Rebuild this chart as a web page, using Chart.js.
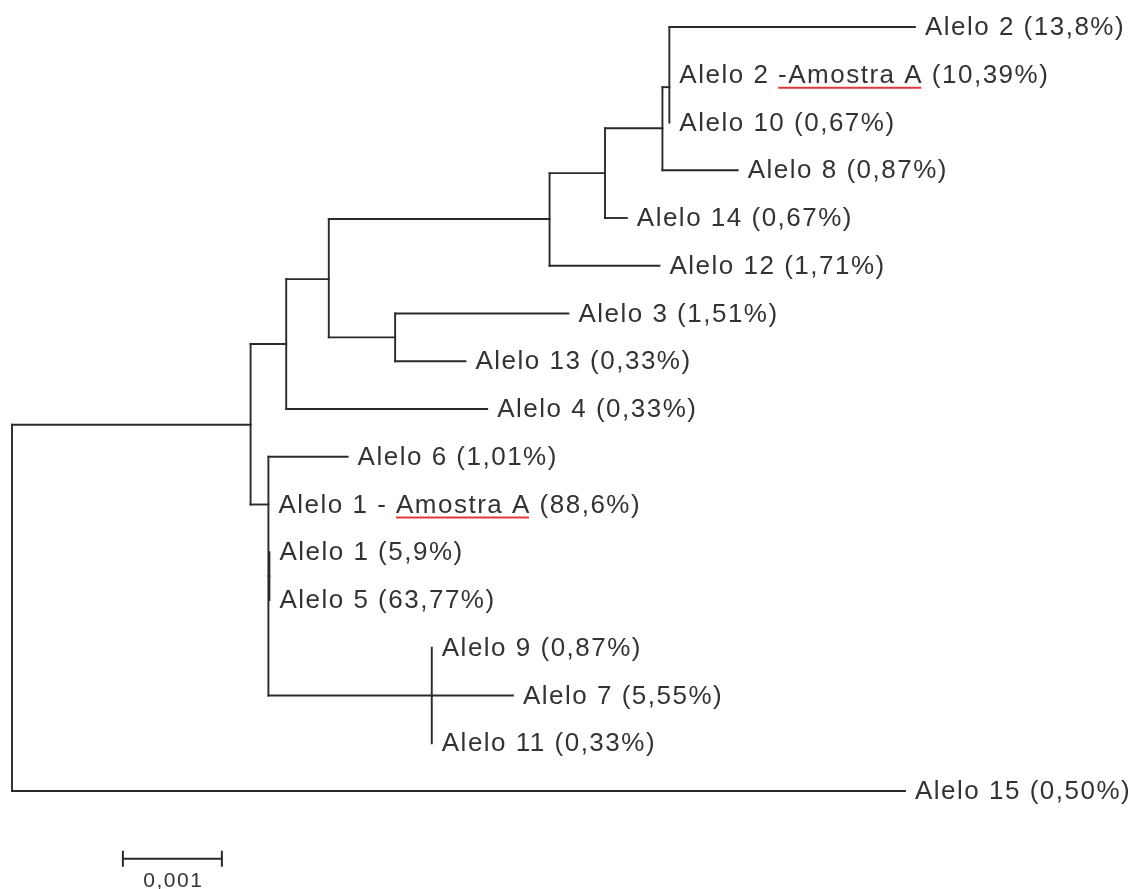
<!DOCTYPE html>
<html>
<head>
<meta charset="utf-8">
<script src="https://cdn.jsdelivr.net/npm/chart.js@4/dist/chart.umd.min.js"></script>
<style>
  body { margin: 0; background: #fff; }
  #tree { display: block; }
</style>
</head>
<body>
<canvas id="tree" width="1143" height="889"></canvas>
<script>
// Leaves, top to bottom (row = index)
const leafNames = ['Alelo 2', 'Alelo 2 -Amostra A', 'Alelo 10', 'Alelo 8', 'Alelo 14', 'Alelo 12',
  'Alelo 3', 'Alelo 13', 'Alelo 4', 'Alelo 6', 'Alelo 1 - Amostra A', 'Alelo 1', 'Alelo 5',
  'Alelo 9', 'Alelo 7', 'Alelo 11', 'Alelo 15'];
const leafPercents = ['13,8%', '10,39%', '0,67%', '0,87%', '0,67%', '1,71%', '1,51%', '0,33%', '0,33%',
  '1,01%', '88,6%', '5,9%', '63,77%', '0,87%', '5,55%', '0,33%', '0,50%'];
const leafUnderline = ['', '-Amostra A', '', '', '', '', '', '', '', '', 'Amostra A', '', '', '', '', '', ''];
const leafParents = ['n8', 'n8', 'n8', 'n7', 'n6', 'n5', 'n4', 'n4', 'n2', 'n9', 'n9', 'n10', 'n10',
  'n11', 'n11', 'n11', 'root'];
// distance from root (substitutions per site)
const leafDepths = [0.00912, 0.00664, 0.00664, 0.00733, 0.00621, 0.00654, 0.00562, 0.00458, 0.00480,
  0.00339, 0.00259, 0.00260, 0.00260, 0.00424, 0.00506, 0.00424, 0.00902];

// Internal nodes
const nodeNames = ['root', 'n1', 'n2', 'n3', 'n4', 'n5', 'n6', 'n7', 'n8', 'n9', 'n10', 'n11'];
const nodeParents = [null, 'root', 'n1', 'n2', 'n3', 'n3', 'n5', 'n6', 'n7', 'n1', 'n9', 'n9'];
const nodeDepths = [0, 0.00241, 0.00277, 0.00320, 0.00387, 0.00543, 0.00599, 0.00657, 0.00664,
  0.00259, 0.00260, 0.00424];
const nodeRows = [12, 8.33, 6.64, 5.28, 6.5, 4.02, 3.06, 2.12, 1.26, 10, 11.5, 14];

const scaleBarLength = 0.001;
const scaleBarLabel = '0,001';

const lineColor = '#2a2a2a';
const textColor = '#333333';

// build lookup of every node position
const pos = {};
nodeNames.forEach((n, i) => { pos[n] = { x: nodeDepths[i], y: nodeRows[i], parent: nodeParents[i] }; });
const children = {};
nodeNames.forEach(n => { children[n] = []; });
nodeNames.forEach((n, i) => { if (nodeParents[i]) children[nodeParents[i]].push(pos[n]); });
leafNames.forEach((n, i) => { children[leafParents[i]].push({ x: leafDepths[i], y: i }); });

function seg(a, b) {
  return {
    data: [a, b],
    showLine: true,
    borderColor: lineColor,
    borderWidth: 1.9,
    borderCapStyle: 'square',
    pointRadius: 0,
    fill: false,
    clip: false
  };
}

const datasets = [];
// horizontal branches
nodeNames.forEach((n, i) => {
  const p = nodeParents[i];
  if (p && nodeDepths[i] > pos[p].x) datasets.push(seg({ x: pos[p].x, y: nodeRows[i] }, { x: nodeDepths[i], y: nodeRows[i] }));
});
leafNames.forEach((n, i) => {
  const p = pos[leafParents[i]];
  if (leafDepths[i] > p.x) datasets.push(seg({ x: p.x, y: i }, { x: leafDepths[i], y: i }));
});
// vertical connectors
nodeNames.forEach((n, i) => {
  const rows = children[n].map(c => c.y);
  datasets.push(seg({ x: nodeDepths[i], y: Math.min(...rows) }, { x: nodeDepths[i], y: Math.max(...rows) }));
});

const labelPlugin = {
  id: 'treeLabels',
  afterDraw(chart) {
    const ctx = chart.ctx;
    const xs = chart.scales.x, ys = chart.scales.y;
    ctx.save();
    ctx.font = '26px "Liberation Sans", Arial, sans-serif';
    if ('letterSpacing' in ctx) ctx.letterSpacing = '1.5px';
    ctx.textBaseline = 'alphabetic';
    ctx.textAlign = 'left';
    leafNames.forEach((name, i) => {
      const text = name + ' (' + leafPercents[i] + ')';
      const x = xs.getPixelForValue(leafDepths[i]) + 10;
      const y = ys.getPixelForValue(i) + 8;
      ctx.fillStyle = textColor;
      ctx.fillText(text, x, y);
      const u = leafUnderline[i];
      if (u) {
        const start = text.indexOf(u);
        const x0 = x + ctx.measureText(text.slice(0, start)).width;
        const w = ctx.measureText(u).width - 2;
        ctx.strokeStyle = '#e0393e';
        ctx.lineWidth = 2;
        ctx.beginPath();
        ctx.moveTo(x0, y + 5);
        ctx.lineTo(x0 + w, y + 5);
        ctx.stroke();
      }
    });
    // scale bar
    const bx0 = xs.getPixelForValue(0.00112);
    const bx1 = xs.getPixelForValue(0.00112 + scaleBarLength);
    const by = ys.getPixelForValue(17.42);
    ctx.strokeStyle = lineColor;
    ctx.lineWidth = 2;
    ctx.beginPath();
    ctx.moveTo(bx0, by); ctx.lineTo(bx1, by);
    ctx.moveTo(bx0, by - 8); ctx.lineTo(bx0, by + 8);
    ctx.moveTo(bx1, by - 8); ctx.lineTo(bx1, by + 8);
    ctx.stroke();
    ctx.font = '21px "Liberation Sans", Arial, sans-serif';
    if ('letterSpacing' in ctx) ctx.letterSpacing = '1.5px';
    ctx.textAlign = 'center';
    ctx.fillStyle = textColor;
    ctx.fillText(scaleBarLabel, (bx0 + bx1) / 2 + 1, by + 28);
    ctx.restore();
  }
};

new Chart(document.getElementById('tree'), {
  type: 'scatter',
  data: { datasets },
  options: {
    responsive: false,
    animation: false,
    layout: { padding: { left: 12, right: 141, top: 27, bottom: 98 } },
    plugins: { legend: { display: false }, tooltip: { enabled: false } },
    scales: {
      x: { type: 'linear', min: 0, max: 0.01, display: false },
      y: { type: 'linear', min: 0, max: 16, reverse: true, display: false }
    }
  },
  plugins: [labelPlugin]
});
</script>
</body>
</html>
